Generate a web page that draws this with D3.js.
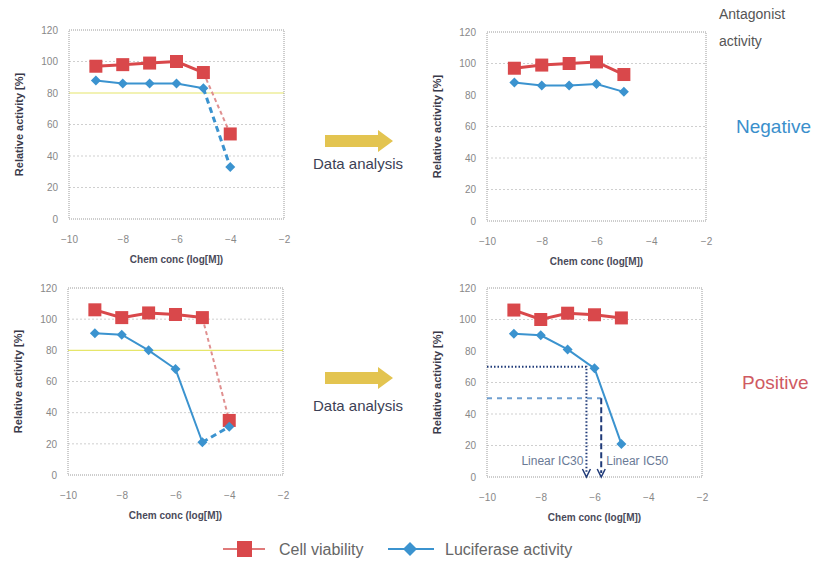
<!DOCTYPE html>
<html>
<head>
<meta charset="utf-8">
<script src="https://d3js.org/d3.v7.min.js"></script>
<style>
  body { margin: 0; background: #fff; }
  text { font-family: "Liberation Sans", Arial, sans-serif; }
</style>
</head>
<body>
<script>
var w = 830, h = 562

// concentrations (log[M]) and read values
var concs = [-9, -8, -7, -6, -5, -4]
var negCellRaw = [97, 98, 99, 100, 93, 54]
var negLucRaw = [88, 86, 86, 86, 83, 33]
var negCellFit = [97, 99, 100, 101, 93]
var negLucFit = [88, 86, 86, 87, 82]
var posCellRaw = [106, 101, 104, 103, 101, 35]
var posLucRaw = [91, 90, 80, 68, 21, 31]
var posCellFit = [106, 100, 104, 103, 101]
var posLucFit = [91, 90, 81, 69, 21]
var xTicks = [-10, -8, -6, -4, -2]
var yTicks = [0, 20, 40, 60, 80, 100, 120]
var gridVals = [20, 40, 60, 100]
var thresholdVal = 80
var ic30 = {x: -6.3, y: 70}
var ic50 = {x: -5.75, y: 50}

var red = '#d9484b', blue = '#3b93cf'

var svg = d3.select('body').append('svg')
  .attr('width', w).attr('height', h)

var diamond = function(s) {
  return 'M0,' + (-s) + 'L' + s + ',0L0,' + s + 'L' + (-s) + ',0Z'
}

function panel(box, cell, luc, raw, threshold) {
  var x = d3.scaleLinear().domain([-10, -2]).range([box.left, box.right])
  var y = d3.scaleLinear().domain([0, 120]).range([box.bottom, box.top])
  var g = svg.append('g')

  g.selectAll('.grid').data(gridVals).enter().append('line')
    .attr('x1', box.left).attr('x2', box.right)
    .attr('y1', d => y(d)).attr('y2', d => y(d))
    .attr('stroke', '#cfcfcf').attr('stroke-dasharray', '2,2')
  if (threshold) {
    g.append('line')
      .attr('x1', box.left).attr('x2', box.right)
      .attr('y1', y(thresholdVal)).attr('y2', y(thresholdVal))
      .attr('stroke', '#e6e66a').attr('stroke-width', 1.2)
  }
  g.append('rect')
    .attr('x', box.left).attr('y', box.top)
    .attr('width', box.right - box.left).attr('height', box.bottom - box.top)
    .attr('fill', 'none').attr('stroke', '#9a9a9a').attr('stroke-dasharray', '1,1')

  var ya = g.append('g').attr('transform', 'translate(' + (box.left - 8) + ',0)')
    .call(d3.axisLeft(y).tickValues(yTicks).tickSize(0))
  ya.select('.domain').remove()
  ya.selectAll('text').attr('fill', '#888').attr('font-size', 10)

  var xa = g.append('g').attr('transform', 'translate(0,' + (box.bottom + 14) + ')')
    .call(d3.axisBottom(x).tickValues(xTicks).tickSize(0))
  xa.select('.domain').remove()
  xa.selectAll('text').attr('fill', '#888').attr('font-size', 10)

  g.append('text').text('Chem conc (log[M])')
    .attr('x', (box.left + box.right) / 2).attr('y', box.bottom + 44)
    .attr('text-anchor', 'middle').attr('font-size', 10).attr('font-weight', 'bold')
    .attr('fill', '#4a4a5a')
  g.append('text').text('Relative activity [%]')
    .attr('transform', 'translate(' + (box.left - 46) + ',' + ((box.top + box.bottom) / 2) + ') rotate(-90)')
    .attr('text-anchor', 'middle').attr('font-size', 11).attr('font-weight', 'bold')
    .attr('fill', '#3a3a4a')

  var line = d3.line().x(d => x(d[0])).y(d => y(d[1]))
  function series(vals, color, width, dashColor, dashWidth, dash) {
    var pts = vals.map((v, i) => [concs[i], v])
    var solid = raw ? pts.slice(0, 5) : pts
    g.append('path').attr('d', line(solid))
      .attr('fill', 'none').attr('stroke', color).attr('stroke-width', width)
    if (raw) {
      g.append('path').attr('d', line(pts.slice(4)))
        .attr('fill', 'none').attr('stroke', dashColor).attr('stroke-width', dashWidth)
        .attr('stroke-dasharray', dash)
    }
    return pts
  }
  var cp = series(cell, red, 3, '#e09090', 2, '4,3')
  var lp = series(luc, blue, 2, blue, 3, '6,4')

  g.selectAll('.sq').data(cp).enter().append('rect')
    .attr('x', d => x(d[0]) - 6.5).attr('y', d => y(d[1]) - 6.5)
    .attr('width', 13).attr('height', 13).attr('fill', red)
  g.selectAll('.dm').data(lp).enter().append('path')
    .attr('d', diamond(5))
    .attr('transform', d => 'translate(' + x(d[0]) + ',' + y(d[1]) + ')')
    .attr('fill', blue)

  return {x: x, y: y, g: g}
}

panel({left: 69, right: 284, top: 30, bottom: 219}, negCellRaw, negLucRaw, true, true)
panel({left: 487, right: 706, top: 32, bottom: 221}, negCellFit, negLucFit, false, false)
panel({left: 68, right: 283, top: 288, bottom: 475}, posCellRaw, posLucRaw, true, true)
var p4 = panel({left: 487, right: 702, top: 288, bottom: 477}, posCellFit, posLucFit, false, false)

// IC annotations
var navy = '#1f3a78'
var a = p4.g, px = p4.x, py = p4.y
a.append('polyline')
  .attr('points', [[px(-10), py(ic30.y)], [px(ic30.x), py(ic30.y)], [px(ic30.x), py(0) - 4]].join(' '))
  .attr('fill', 'none').attr('stroke', navy).attr('stroke-width', 2).attr('stroke-dasharray', '1.5,2')
a.append('line')
  .attr('x1', px(-10)).attr('x2', px(ic50.x)).attr('y1', py(ic50.y)).attr('y2', py(ic50.y))
  .attr('stroke', '#6f9fd0').attr('stroke-width', 2).attr('stroke-dasharray', '5,5')
a.append('line')
  .attr('x1', px(ic50.x)).attr('x2', px(ic50.x)).attr('y1', py(ic50.y)).attr('y2', py(0) - 4)
  .attr('stroke', navy).attr('stroke-width', 2).attr('stroke-dasharray', '6,3')
;[ic30.x, ic50.x].forEach(function(v) {
  a.append('path')
    .attr('d', 'M' + (px(v) - 4) + ',' + (py(0) - 8) + 'L' + px(v) + ',' + py(0) + 'L' + (px(v) + 4) + ',' + (py(0) - 8))
    .attr('fill', 'none').attr('stroke', navy).attr('stroke-width', 1.5)
})
a.append('text').text('Linear IC30')
  .attr('x', px(ic30.x) - 3).attr('y', py(10) + 4).attr('text-anchor', 'end')
  .attr('font-size', 12).attr('fill', '#6a7a96')
a.append('text').text('Linear IC50')
  .attr('x', px(ic50.x) + 5).attr('y', py(10) + 4)
  .attr('font-size', 12).attr('fill', '#6a7a96')

// data analysis arrows
;[{y: 141, ty: 169}, {y: 378, ty: 411}].forEach(function(d) {
  svg.append('path')
    .attr('d', 'M325,' + (d.y - 6) + 'H378V' + (d.y - 11) + 'L393,' + d.y + 'L378,' + (d.y + 11) + 'V' + (d.y + 6) + 'H325Z')
    .attr('fill', '#e3c450')
  svg.append('text').text('Data analysis')
    .attr('x', 358).attr('y', d.ty).attr('text-anchor', 'middle')
    .attr('font-size', 15).attr('fill', '#3c3f55')
})

svg.append('text').text('Antagonist').attr('x', 719).attr('y', 19)
  .attr('font-size', 14).attr('fill', '#555')
svg.append('text').text('activity').attr('x', 719).attr('y', 46)
  .attr('font-size', 14).attr('fill', '#555')
svg.append('text').text('Negative').attr('x', 736).attr('y', 133)
  .attr('font-size', 19).attr('fill', '#3a8fcc')
svg.append('text').text('Positive').attr('x', 742).attr('y', 389)
  .attr('font-size', 19).attr('fill', '#cf5a62')

// legend
var lg = svg.append('g')
lg.append('line').attr('x1', 223).attr('x2', 265).attr('y1', 549).attr('y2', 549)
  .attr('stroke', '#e07a7a').attr('stroke-width', 2)
lg.append('rect').attr('x', 237).attr('y', 541).attr('width', 15).attr('height', 16).attr('fill', red)
lg.append('text').text('Cell viability').attr('x', 279).attr('y', 555)
  .attr('font-size', 16).attr('fill', '#666')
lg.append('line').attr('x1', 388).attr('x2', 434).attr('y1', 549).attr('y2', 549)
  .attr('stroke', blue).attr('stroke-width', 2)
lg.append('path').attr('d', diamond(7))
  .attr('transform', 'translate(410,549)').attr('fill', blue)
lg.append('text').text('Luciferase activity').attr('x', 445).attr('y', 555)
  .attr('font-size', 16).attr('fill', '#666')
</script>
</body>
</html>
